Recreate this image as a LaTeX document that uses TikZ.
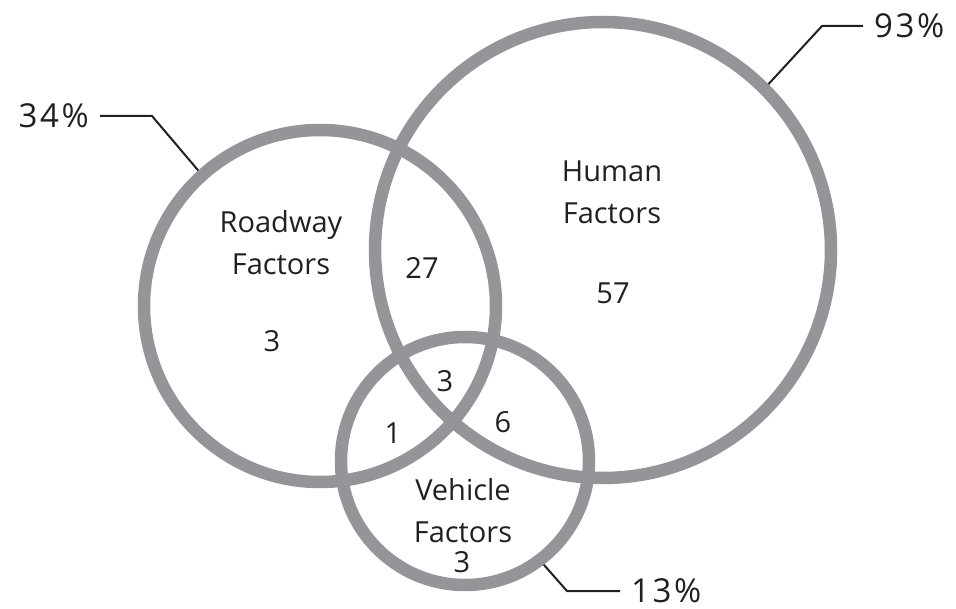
\documentclass[tikz,border=0pt]{standalone}
\usepackage{fontspec}
\setmainfont{Open Sans}
\newfontfamily\pctfont[LetterSpace=8]{Open Sans}
\usetikzlibrary{backgrounds}
\definecolor{ringgray}{HTML}{939598}
\definecolor{ink}{HTML}{231F20}
\begin{document}
\begin{tikzpicture}[x=1pt,y=-1pt,
  ring/.style={circle,draw=ringgray,line width=12.5pt,inner sep=0pt,outer sep=0pt},
  lbl/.style={font=\fontsize{29}{42}\selectfont,text=ink,align=center,inner sep=0pt},
  num/.style={font=\fontsize{29}{34}\selectfont,text=ink,inner sep=0pt,text depth=0pt},
  pct/.style={font=\pctfont\fontsize{33}{40}\selectfont,text=ink,inner xsep=11pt,inner ysep=0pt,text depth=0pt},
  leader/.style={draw=ink,line width=2pt}]
\useasboundingbox (0,0) rectangle (956,609);
% circles
\node[ring,minimum size=352pt] (road) at (320,306) {};
\node[ring,minimum size=456pt] (human) at (603,250) {};
\node[ring,minimum size=248pt] (veh) at (465,461) {};
% labels
\node[lbl] (roadlbl) at (281,243) {Roadway\\Factors};
\node[lbl] (humanlbl) at (612,192) {Human\\Factors};
\node[lbl] (vehlbl) at (463,511) {Vehicle\\Factors};
% numbers
\node[num] (n27) at (422,268) {27};
\node[num] (n57) at (613,293) {57};
\node[num] (nroad) at (272,341) {3};
\node[num] (nall) at (445,381) {3};
\node[num] (n1) at (393,433) {1};
\node[num] (n6) at (503,422) {6};
\node[num] (nveh) at (462,562) {3};
% percentage labels
\node[pct,anchor=east] (p34) at (100,116) {34\%};
\node[pct,anchor=west] (p93) at (863,26) {93\%};
\node[pct,anchor=west] (p13) at (620,591) {13\%};
\coordinate (k34) at (152,116);
\coordinate (k93) at (822,26);
\coordinate (k13) at (567,591);
\begin{scope}[on background layer]
\draw[leader] (p34.east) -- (k34) -- (road.132);
\draw[leader] (p93.west) -- (k93) -- (human.45.5);
\draw[leader] (p13.west) -- (k13) -- (veh.-53);
\end{scope}
\end{tikzpicture}
\end{document}
